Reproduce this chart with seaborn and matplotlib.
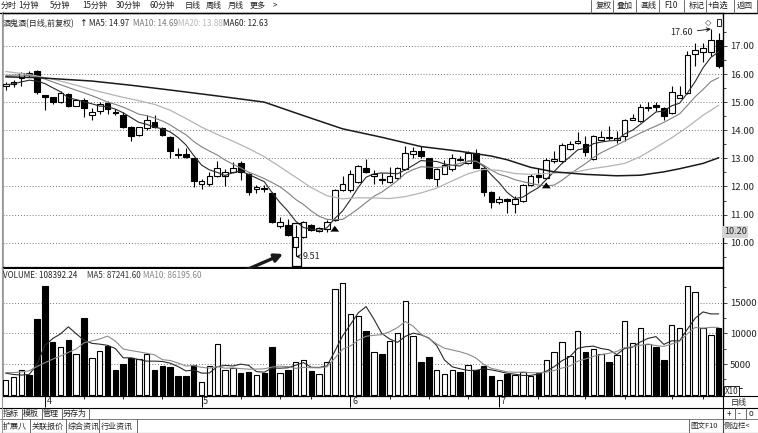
import numpy as np
import matplotlib.pyplot as plt
import seaborn as sns
from matplotlib.patches import Rectangle

# ── Data ──────────────────────────────────────────────────────────────────────
opens = [15.58, 15.65, 15.85, 16.02, 16.09, 15.24, 15.18, 15.02, 15.30, 14.87,
         15.09, 14.54, 14.69, 14.97, 14.66, 14.54, 14.11, 13.84, 14.07, 14.30,
         14.07, 13.76, 13.15, 13.14, 13.02, 12.07, 12.09, 12.36, 12.38, 12.52,
         12.83, 12.43, 11.92, 11.92, 11.77, 10.58, 10.62, 9.83, 10.20, 10.62,
         10.43, 10.49, 10.80, 11.86, 11.89, 12.15, 12.67, 12.37, 12.27, 12.15,
         12.31, 12.63, 13.14, 13.26, 13.02, 12.27, 12.45, 12.61, 12.99, 12.85,
         13.18, 12.67, 11.80, 11.43, 11.54, 11.37, 11.49, 12.04, 12.40, 12.31,
         12.92, 12.90, 13.34, 13.56, 13.50, 12.96, 13.67, 13.75, 13.65, 13.79,
         14.38, 14.33, 14.80, 14.88, 14.80, 14.62, 15.15, 15.33, 16.70, 16.78,
         16.78, 17.22]
highs = [15.71, 15.80, 16.06, 16.09, 16.14, 15.26, 15.20, 15.39, 15.34, 15.11,
         15.13, 14.80, 15.01, 15.03, 14.74, 14.66, 14.16, 14.13, 14.54, 14.54,
         14.13, 13.81, 13.38, 13.38, 13.02, 12.26, 12.50, 12.90, 12.63, 12.87,
         12.91, 12.49, 12.04, 12.04, 11.80, 10.92, 10.85, 10.62, 10.76, 10.68,
         10.56, 10.82, 11.90, 12.37, 12.60, 12.76, 12.99, 12.60, 12.49, 12.70,
         12.70, 13.44, 13.42, 13.44, 13.02, 12.67, 12.94, 13.14, 13.08, 13.26,
         13.32, 12.73, 11.84, 11.66, 11.60, 11.66, 12.08, 12.43, 12.64, 13.02,
         13.26, 13.55, 13.62, 13.95, 13.79, 13.82, 13.97, 14.15, 13.99, 14.41,
         14.58, 14.92, 14.99, 14.99, 14.84, 15.59, 15.59, 16.82, 17.11, 17.11,
         17.60, 17.46]
lows = [15.44, 15.53, 15.59, 15.90, 15.30, 14.72, 14.93, 14.97, 14.83, 14.85,
        14.48, 14.37, 14.59, 14.57, 14.55, 14.07, 13.61, 13.78, 14.01, 14.07,
        13.78, 13.02, 13.02, 13.02, 11.97, 11.91, 12.03, 12.32, 12.03, 12.48,
        12.24, 11.68, 11.75, 11.80, 10.71, 10.52, 10.25, 9.51, 10.17, 10.43,
        10.38, 10.37, 10.78, 11.83, 11.80, 12.13, 12.49, 12.07, 12.07, 12.13,
        12.25, 12.60, 13.00, 13.02, 12.27, 12.01, 12.43, 12.55, 12.90, 12.79,
        12.64, 11.65, 11.24, 11.37, 11.05, 11.07, 11.45, 12.02, 12.14, 12.27,
        12.85, 12.85, 13.30, 13.52, 13.08, 12.94, 13.65, 13.66, 13.55, 13.62,
        14.35, 14.31, 14.68, 14.68, 14.35, 14.56, 15.13, 15.30, 16.29, 16.42,
        16.65, 16.22]
closes = [15.65, 15.73, 16.02, 15.98, 15.36, 15.19, 15.01, 15.33, 14.87, 15.07,
          14.78, 14.66, 14.94, 14.74, 14.62, 14.13, 13.81, 14.10, 14.37, 14.13,
          13.84, 13.26, 13.12, 13.05, 12.21, 12.18, 12.38, 12.67, 12.53, 12.67,
          12.50, 11.80, 11.99, 11.90, 10.73, 10.74, 10.29, 10.20, 10.73, 10.46,
          10.52, 10.73, 11.86, 12.07, 12.46, 12.73, 12.52, 12.46, 12.23, 12.39,
          12.67, 13.20, 13.26, 13.08, 12.31, 12.61, 12.75, 13.02, 12.94, 13.18,
          12.67, 11.80, 11.45, 11.57, 11.47, 11.57, 12.04, 12.37, 12.35, 12.93,
          12.98, 13.46, 13.52, 13.62, 13.22, 13.79, 13.77, 13.71, 13.73, 14.35,
          14.43, 14.82, 14.83, 14.83, 14.50, 15.36, 15.27, 16.66, 16.87, 16.93,
          17.22, 16.27]

ma5 = [15.62, 15.65, 15.72, 15.78, 15.75, 15.66, 15.51, 15.37, 15.15, 15.09,
       15.01, 14.94, 14.86, 14.84, 14.75, 14.62, 14.45, 14.28, 14.21, 14.11,
       14.05, 13.94, 13.74, 13.48, 13.10, 12.76, 12.59, 12.50, 12.39, 12.49,
       12.55, 12.43, 12.30, 12.17, 11.78, 11.43, 11.13, 10.77, 10.54, 10.48,
       10.44, 10.53, 10.86, 11.13, 11.53, 11.97, 12.33, 12.45, 12.48, 12.47,
       12.45, 12.59, 12.75, 12.92, 12.90, 12.89, 12.80, 12.75, 12.73, 12.90,
       12.91, 12.72, 12.41, 12.13, 11.79, 11.57, 11.62, 11.80, 11.96, 12.25,
       12.53, 12.82, 13.05, 13.30, 13.36, 13.52, 13.58, 13.62, 13.64, 13.87,
       14.00, 14.21, 14.43, 14.65, 14.68, 14.87, 14.96, 15.32, 15.73, 16.22,
       16.59, 16.79]
ma10 = [15.95, 15.96, 15.96, 15.94, 15.90, 15.82, 15.72, 15.62, 15.52, 15.42,
        15.33, 15.23, 15.12, 15.00, 14.92, 14.82, 14.70, 14.57, 14.52, 14.43,
        14.33, 14.19, 14.01, 13.84, 13.60, 13.41, 13.26, 13.12, 12.94, 12.79,
        12.66, 12.51, 12.40, 12.28, 12.14, 11.99, 11.78, 11.54, 11.36, 11.13,
        10.94, 10.83, 10.82, 10.83, 11.01, 11.21, 11.43, 11.65, 11.80, 12.00,
        12.21, 12.46, 12.60, 12.70, 12.69, 12.67, 12.70, 12.75, 12.82, 12.90,
        12.90, 12.76, 12.58, 12.43, 12.35, 12.24, 12.17, 12.11, 12.05, 12.02,
        12.05, 12.22, 12.43, 12.63, 12.81, 13.03, 13.20, 13.34, 13.47, 13.62,
        13.76, 13.90, 14.03, 14.15, 14.28, 14.43, 14.58, 14.88, 15.19, 15.45,
        15.73, 15.87]
ma20_idx = [0, 3, 6, 9, 12, 15, 17, 19, 21, 23, 25, 27, 29, 31, 33, 35, 37, 39,
            41, 43, 45, 47, 49, 51, 53, 55, 57, 59, 61, 63, 65, 67, 69, 71, 73,
            75, 77, 79, 81, 83, 85, 87, 89, 91]
ma20 = [16.09, 15.98, 15.82, 15.60, 15.37, 15.17, 15.05, 14.92, 14.71, 14.42,
        14.11, 13.85, 13.61, 13.35, 13.06, 12.70, 12.33, 11.96, 11.67, 11.56,
        11.60, 11.59, 11.57, 11.64, 11.77, 11.94, 12.20, 12.45, 12.61, 12.57,
        12.46, 12.43, 12.46, 12.49, 12.53, 12.64, 12.72, 12.82, 13.06, 13.39,
        13.73, 14.11, 14.53, 14.89]
ma60_idx = [0, 4, 11, 16, 21, 27, 33, 38, 43, 48, 53, 58, 62, 64, 67, 70, 74,
            78, 81, 84, 86, 89, 91]
ma60 = [15.90, 15.87, 15.75, 15.60, 15.43, 15.22, 15.00, 14.52, 14.05, 13.75,
        13.42, 13.25, 13.08, 12.95, 12.68, 12.52, 12.43, 12.38, 12.40, 12.52,
        12.63, 12.82, 13.02]

volume = [2400, 2930, 4020, 3200, 12290, 17720, 8540, 7830, 8920, 6630,
          12500, 5980, 7170, 7940, 4020, 4950, 5980, 5770, 6630, 4020,
          4680, 4560, 3050, 3050, 4840, 2070, 4680, 8260, 4020, 4350,
          3590, 3700, 3160, 3540, 7720, 3490, 4020, 5280, 5650, 3910,
          3320, 5280, 17180, 18260, 13150, 12870, 10330, 6910, 6630, 8700,
          10060, 15220, 9570, 5280, 6090, 4020, 3320, 4020, 3650, 4800,
          4020, 4680, 3050, 2400, 3320, 3230, 3670, 3100, 3490, 5650,
          6910, 8590, 6300, 10330, 6960, 7400, 6630, 5280, 6420, 12010,
          8380, 10870, 8260, 7830, 5650, 11320, 10820, 17720, 16790, 10820,
          9680, 10840]
vol_ma5 = [3500, 3300, 3200, 3300, 4968, 8032, 9154, 9916, 11060, 9928,
           8884, 8372, 8240, 8044, 7522, 6012, 6012, 5732, 5470, 5470,
           5416, 5132, 4588, 3872, 4036, 3514, 3538, 4580, 4774, 4676,
           4980, 4784, 3764, 3668, 4342, 4322, 4386, 4810, 5232, 4470,
           4436, 4688, 7068, 9590, 11438, 13348, 14358, 12304, 9978, 9088,
           8526, 9504, 10036, 9766, 9244, 8036, 5656, 4546, 4220, 3962,
           3962, 4234, 4040, 3790, 3494, 3336, 3134, 3144, 3362, 3828,
           4564, 5548, 6188, 7556, 7818, 7916, 7524, 7320, 6538, 7548,
           7744, 8592, 9188, 9470, 8198, 8786, 8776, 10668, 12460, 13494,
           13166, 13170]
vol_ma10 = [3600, 3600, 3700, 3900, 4600, 5200, 5800, 6300, 6900, 7448,
            8458, 8763, 9078, 9552, 8725, 7448, 7192, 6986, 6757, 6496,
            5714, 5572, 5160, 4671, 4753, 4465, 4335, 4584, 4323, 4356,
            4247, 4161, 4172, 4221, 4509, 4651, 4585, 4287, 4450, 4406,
            4379, 4537, 5939, 7411, 7954, 8892, 9523, 9686, 9784, 10263,
            10937, 11931, 11170, 9872, 9166, 8281, 7580, 7291, 6993, 6603,
            5999, 4945, 4293, 4005, 3728, 3649, 3684, 3592, 3576, 3661,
            3950, 4341, 4666, 5459, 5823, 6240, 6536, 6754, 7047, 7683,
            7830, 8058, 8254, 8004, 7873, 8265, 8684, 9928, 10965, 10846,
            10976, 10973]

month_idx = [5, 25, 44, 63]
month_labels = ['4', '5', '6', '7']
week_idx = [10, 15, 20, 30, 35, 39, 49, 54, 59, 68, 74, 79, 85, 89]

price_ticks = [10, 11, 12, 13, 14, 15, 16, 17]
vol_ticks = [5000, 10000, 15000]

# ── Style ─────────────────────────────────────────────────────────────────────
sns.set_theme(style='white')
plt.rcParams['font.family'] = ['Noto Sans CJK SC', 'DejaVu Sans']
plt.rcParams['axes.unicode_minus'] = False

W, H = 758, 433
fig = plt.figure(figsize=(W / 100, H / 100), dpi=100)
fig.patch.set_facecolor('white')


def fx(px):
    return px / W


def fy(py):
    return 1 - py / H


idx = np.arange(len(closes))
o = np.array(opens)
c = np.array(closes)
up = c >= o
XLIM = (-0.345, 91.55)
GRID = dict(color='#777777', linestyle=(0, (1, 2)), linewidth=0.7)
FS = 5.8  # small UI text

# ── Price panel ───────────────────────────────────────────────────────────────
ax = fig.add_axes([fx(3), fy(268), fx(723) - fx(3), fy(13) - fy(268)])
ax.set_xlim(*XLIM)
ax.set_ylim(9.10, 18.17)
for t in price_ticks:
    ax.axhline(t, zorder=0, **GRID)

ax.vlines(idx, lows, highs, color='black', linewidth=0.8, zorder=2)
body = np.maximum(np.abs(c - o), 0.03)
ax.bar(idx, body, bottom=np.minimum(o, c), width=0.72,
       color=np.where(up, 'white', 'black'), edgecolor='black',
       linewidth=0.8, zorder=3)

sns.lineplot(x=idx, y=ma5, ax=ax, color='#2a2a2a', linewidth=0.8, zorder=4)
sns.lineplot(x=idx, y=ma10, ax=ax, color='#808080', linewidth=0.8, zorder=4)
sns.lineplot(x=ma20_idx, y=ma20, ax=ax, color='#b4b4b4', linewidth=0.9, zorder=4)
sns.lineplot(x=ma60_idx, y=ma60, ax=ax, color='#1a1a1a', linewidth=1.1, zorder=4)

ax.set_xticks([])
ax.set_yticks(price_ticks)
ax.set_yticklabels([f'{t:.2f}' for t in price_ticks])
ax.set_yticks(np.arange(9.5, 18, 1.0), minor=True)
ax.yaxis.tick_right()
ax.tick_params(axis='y', which='major', direction='out', length=3, width=0.6,
               labelsize=6.8, pad=2, colors='#222222')
ax.tick_params(axis='y', which='minor', direction='out', length=2, width=0.6,
               right=True, colors='#222222')
ax.set_xlabel('')
ax.set_ylabel('')
for s in ['top', 'right']:
    ax.spines[s].set_color('black')
    ax.spines[s].set_linewidth(0.9)
ax.spines['left'].set_color('#999999')
ax.spines['bottom'].set_color('black')
ax.spines['bottom'].set_linewidth(1.6)

# annotations on the price panel
ax.add_patch(Rectangle((36.5, 9.17), 1.15, 1.52, fill=False, edgecolor='black',
                       linewidth=0.9, zorder=5))
ax.annotate('9.51', xy=(37.05, 9.51), xytext=(37.9, 9.50), ha='left', va='center',
            fontsize=6.5, arrowprops=dict(arrowstyle='->', lw=0.6, color='black',
                                          shrinkA=0, shrinkB=0))
ax.annotate('17.60', xy=(90, 17.60), xytext=(87.7, 17.47), ha='right', va='center',
            fontsize=6.5, arrowprops=dict(arrowstyle='->', lw=0.6, color='black',
                                          shrinkA=1, shrinkB=0))
for i, (y0, y1) in {42: (10.40, 10.70), 69: (11.98, 12.24)}.items():
    ax.annotate('', xy=(i, y1), xytext=(i, y0),
                arrowprops=dict(arrowstyle='simple,head_width=0.9,head_length=0.6,tail_width=0.35',
                                color='black', lw=0, mutation_scale=7), zorder=6)
ax.annotate('', xy=(35.4, 9.60), xytext=(30.6, 9.02),
            arrowprops=dict(arrowstyle='-|>', lw=2.4, color='#1a1a1a', mutation_scale=12,
                            shrinkA=0, shrinkB=0), annotation_clip=False, zorder=6)
ax.text(89.6, 17.83, '◇', ha='center', va='center', fontsize=6, family='DejaVu Sans')
ax.add_patch(Rectangle((90.75, 17.72), 0.6, 0.25, fill=False, edgecolor='black',
                       linewidth=0.6, zorder=5))

# ── Volume panel ──────────────────────────────────────────────────────────────
axv = fig.add_axes([fx(3), fy(396), fx(723) - fx(3), fy(269) - fy(396)])
axv.set_xlim(*XLIM)
axv.set_ylim(-212, 20490)
for t in vol_ticks:
    axv.axhline(t, zorder=0, **GRID)
axv.bar(idx, volume, width=0.7, color=np.where(up, 'white', 'black'),
        edgecolor='black', linewidth=0.8, zorder=3)
sns.lineplot(x=idx, y=vol_ma5, ax=axv, color='#2a2a2a', linewidth=0.8, zorder=4)
sns.lineplot(x=idx, y=vol_ma10, ax=axv, color='#8c8c8c', linewidth=0.8, zorder=4)
axv.set_xticks([])
axv.set_yticks(vol_ticks)
axv.set_yticklabels([str(t) for t in vol_ticks])
axv.set_yticks([2500, 7500, 12500, 17500], minor=True)
axv.yaxis.tick_right()
axv.tick_params(axis='y', which='major', direction='out', length=3, width=0.6,
                labelsize=6.8, pad=2, colors='#222222')
axv.tick_params(axis='y', which='minor', direction='out', length=2, width=0.6,
                right=True, colors='#222222')
axv.set_xlabel('')
axv.set_ylabel('')
axv.spines['top'].set_visible(False)
axv.spines['left'].set_color('#999999')
for s in ['right', 'bottom']:
    axv.spines[s].set_color('black')
    axv.spines[s].set_linewidth(0.9)

# ── Date strip ────────────────────────────────────────────────────────────────
axd = fig.add_axes([fx(3), fy(408), fx(723) - fx(3), fy(396) - fy(408)])
axd.set_xlim(*XLIM)
axd.set_ylim(0, 1)
axd.axis('off')
axd.vlines(month_idx, 0.1, 1, color='black', linewidth=0.7)
axd.vlines(week_idx, 0.75, 1, color='black', linewidth=0.6)
for m, lab in zip(month_idx, month_labels):
    axd.text(m + 0.2, 0.5, lab, ha='left', va='center', fontsize=6.5)

# ── Frame lines ───────────────────────────────────────────────────────────────
def hline(y, x0=0, x1=W, lw=0.8, color='black'):
    fig.add_artist(plt.Line2D([fx(x0), fx(x1)], [fy(y), fy(y)], color=color, lw=lw))


def vline(x, y0, y1, lw=0.8, color='black'):
    fig.add_artist(plt.Line2D([fx(x), fx(x)], [fy(y0), fy(y1)], color=color, lw=lw))


hline(12.5, lw=1.0)
hline(408)
hline(419, color='#666666', lw=0.6)
hline(432.5, lw=0.8)
vline(723, 12.5, 433)
vline(2, 12.5, 433, color='#999999')
hline(396, 723, W)
hline(388, 723, 742, lw=0.6)

# ── Toolbar & header texts ────────────────────────────────────────────────────
top_items = [('分时', 1), ('1分钟', 18), ('5分钟', 50), ('15分钟', 82), ('30分钟', 116),
             ('60分钟', 150), ('日线', 185), ('周线', 206), ('月线', 228), ('更多', 250),
             ('>', 273)]
for txt, x in top_items:
    fig.text(fx(x), fy(5.5), txt, ha='left', va='center', fontsize=FS, color='#222222')

btns = [('复权', 596), ('叠加', 617), ('画线', 640), ('F10', 664), ('标记', 689),
        ('+自选', 708), ('返回', 737)]
for txt, x in btns:
    fig.text(fx(x), fy(5.5), txt, ha='left', va='center', fontsize=FS, color='#222222')
for x in [591, 613, 636, 659, 684, 706, 734, 757]:
    vline(x, 0, 12.5, lw=0.6, color='#555555')

fig.text(fx(3), fy(24), '酒鬼酒(日线,前复权)', ha='left', va='center', fontsize=FS)
fig.text(fx(80), fy(23), '↑', ha='left', va='center', fontsize=5.5, fontweight='bold')
for txt, x, col in [('MA5: 14.97', 89, '#222222'), ('MA10: 14.69', 133, '#777777'),
                    ('MA20: 13.88', 178, '#b8b8b8'), ('MA60: 12.63', 223, '#222222')]:
    fig.text(fx(x), fy(24), txt, ha='left', va='center', fontsize=FS, color=col)

for txt, x, col in [('VOLUME: 108392.24', 3, '#222222'), ('MA5: 87241.60', 87, '#333333'),
                    ('MA10: 86195.60', 143, '#888888')]:
    fig.text(fx(x), fy(275), txt, ha='left', va='center', fontsize=FS, color=col)

fig.text(fx(724), fy(232), '10.20', ha='left', va='center', fontsize=6.5,
         bbox=dict(facecolor='#d4d4d4', edgecolor='none', pad=1.0))
fig.text(fx(725), fy(391), 'X10', ha='left', va='center', fontsize=5.8,
         bbox=dict(facecolor='white', edgecolor='black', linewidth=0.6, pad=0.6))

# ── Bottom tab bars ───────────────────────────────────────────────────────────
for txt, x in [('指标', 3), ('模板', 23), ('管理', 43), ('另存为', 63)]:
    fig.text(fx(x), fy(413.5), txt, ha='left', va='center', fontsize=FS)
for x in [22, 42, 62, 89]:
    vline(x, 408, 419, lw=0.6, color='#555555')
for txt, x in [('扩展八', 3), ('关联报价', 32), ('综合资讯', 68), ('行业资讯', 101)]:
    fig.text(fx(x), fy(426), txt, ha='left', va='center', fontsize=FS)
for x in [30, 66, 99, 137]:
    vline(x, 419, 433, lw=0.6, color='#555555')

fig.text(fx(731), fy(402), '日线', ha='left', va='center', fontsize=FS)
fig.text(fx(727), fy(414), '+', ha='left', va='center', fontsize=FS)
fig.text(fx(738), fy(414), '-', ha='left', va='center', fontsize=FS)
fig.text(fx(749), fy(414), 'o', ha='left', va='center', fontsize=FS)
for x in [735, 746]:
    vline(x, 408, 419, lw=0.6, color='#555555')
fig.text(fx(690), fy(426), '图文F10', ha='left', va='center', fontsize=5.4)
fig.text(fx(724), fy(426), '侧边栏<', ha='left', va='center', fontsize=5.4)
vline(689, 419, 433, lw=0.6, color='#555555')
vline(722.5, 419, 433, lw=0.6, color='#555555')

fig.savefig('out.png', dpi=100, facecolor='white')
